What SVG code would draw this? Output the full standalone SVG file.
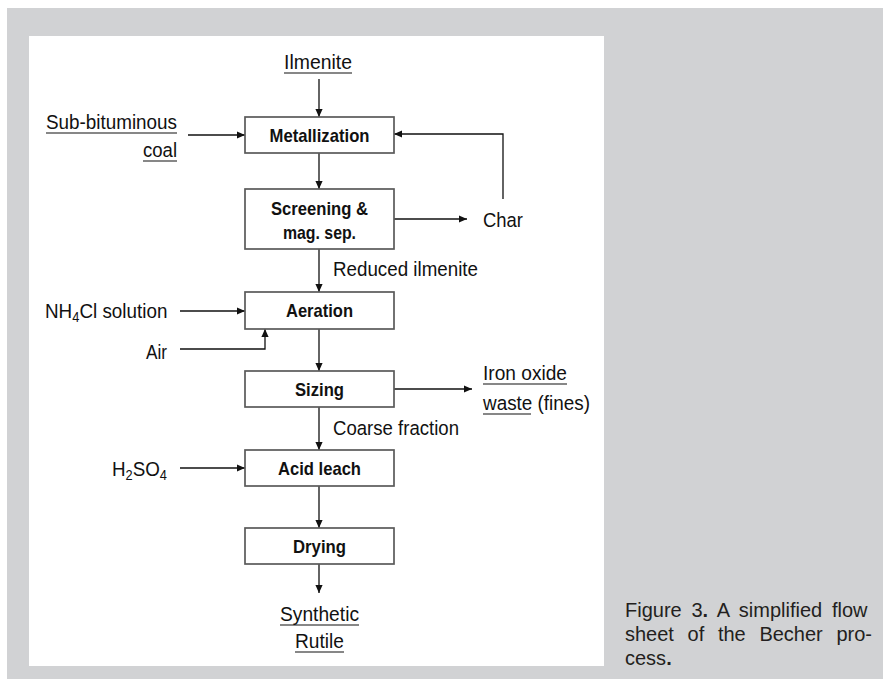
<svg xmlns="http://www.w3.org/2000/svg" width="883" height="679" viewBox="0 0 883 679">
<style>
.lbl{font-family:"Liberation Sans",Arial,sans-serif;font-size:20.5px;fill:#111}
.box{fill:#fff;stroke:#5a5a5a;stroke-width:1.7}
.bt{font-family:"Liberation Sans",Arial,sans-serif;font-size:19px;font-weight:bold;fill:#111;text-anchor:middle}
.ln{fill:none;stroke:#111;stroke-width:1.3}
.ul{stroke:#111;stroke-width:1.2}
.cap{font-family:"Liberation Sans",Arial,sans-serif;font-size:20px;fill:#231f20}
</style>
<defs>
<marker id="ah" viewBox="0 0 10 10" refX="10" refY="5" markerWidth="8" markerHeight="8" markerUnits="userSpaceOnUse" orient="auto">
<path d="M0,0.5 L10,5 L0,9.5 Z" fill="#111"/>
</marker>
</defs>
<rect x="7" y="8" width="876" height="671" fill="#d1d2d4"/>
<rect x="29" y="36" width="575" height="630" fill="#fff"/>

<g id="connectors">
<line class="ln" x1="319" y1="79" x2="319" y2="117" marker-end="url(#ah)"/>
<line class="ln" x1="188" y1="135" x2="245" y2="135" marker-end="url(#ah)"/>
<line class="ln" x1="319" y1="153" x2="319" y2="189" marker-end="url(#ah)"/>
<line class="ln" x1="394" y1="219" x2="467" y2="219" marker-end="url(#ah)"/>
<polyline class="ln" points="503,199 503,134 394,134" marker-end="url(#ah)"/>
<line class="ln" x1="319" y1="249" x2="319" y2="292" marker-end="url(#ah)"/>
<line class="ln" x1="180" y1="311" x2="245" y2="311" marker-end="url(#ah)"/>
<polyline class="ln" points="180,349 265,349 265,329" marker-end="url(#ah)"/>
<line class="ln" x1="319" y1="329" x2="319" y2="371" marker-end="url(#ah)"/>
<line class="ln" x1="394" y1="389" x2="472" y2="389" marker-end="url(#ah)"/>
<line class="ln" x1="319" y1="407" x2="319" y2="450" marker-end="url(#ah)"/>
<line class="ln" x1="180" y1="468" x2="245" y2="468" marker-end="url(#ah)"/>
<line class="ln" x1="319" y1="486" x2="319" y2="528" marker-end="url(#ah)"/>
<line class="ln" x1="319" y1="564" x2="319" y2="593" marker-end="url(#ah)"/>
</g>

<g id="n-metallization"><rect class="box" x="245" y="117" width="149" height="36"/><text class="bt" x="319.5" y="142" textLength="100" lengthAdjust="spacingAndGlyphs">Metallization</text></g>
<g id="n-screening"><rect class="box" x="245" y="189" width="149" height="60"/><text class="bt" x="319.5" y="215" textLength="97" lengthAdjust="spacingAndGlyphs">Screening &amp;</text><text class="bt" x="319.5" y="239" textLength="73" lengthAdjust="spacingAndGlyphs">mag. sep.</text></g>
<g id="n-aeration"><rect class="box" x="245" y="292" width="149" height="37"/><text class="bt" x="319.5" y="317" textLength="67" lengthAdjust="spacingAndGlyphs">Aeration</text></g>
<g id="n-sizing"><rect class="box" x="245" y="371" width="149" height="36"/><text class="bt" x="319.5" y="396" textLength="49" lengthAdjust="spacingAndGlyphs">Sizing</text></g>
<g id="n-acidleach"><rect class="box" x="245" y="450" width="149" height="36"/><text class="bt" x="319.5" y="475" textLength="83" lengthAdjust="spacingAndGlyphs">Acid leach</text></g>
<g id="n-drying"><rect class="box" x="245" y="528" width="149" height="36"/><text class="bt" x="319.5" y="553" textLength="53" lengthAdjust="spacingAndGlyphs">Drying</text></g>

<g id="n-ilmenite"><text class="lbl" x="284" y="69" textLength="68" lengthAdjust="spacingAndGlyphs">Ilmenite</text><line class="ul" x1="284" y1="73" x2="352" y2="73"/></g>
<g id="n-coal"><text class="lbl" x="46" y="129" textLength="131" lengthAdjust="spacingAndGlyphs">Sub-bituminous</text><line class="ul" x1="46" y1="133" x2="177" y2="133"/><text class="lbl" x="143" y="157" textLength="34" lengthAdjust="spacingAndGlyphs">coal</text><line class="ul" x1="143" y1="161" x2="177" y2="161"/></g>
<g id="n-char"><text class="lbl" x="483" y="227" textLength="40" lengthAdjust="spacingAndGlyphs">Char</text></g>
<g id="t-reduced"><text class="lbl" x="333" y="276" textLength="145" lengthAdjust="spacingAndGlyphs">Reduced ilmenite</text></g>
<g id="n-nh4cl" transform="translate(45,318) scale(0.92,1)"><text class="lbl" x="0" y="0">NH<tspan font-size="14" dy="4">4</tspan><tspan dy="-4">Cl solution</tspan></text></g>
<g id="n-air"><text class="lbl" x="146" y="359" textLength="21" lengthAdjust="spacingAndGlyphs">Air</text></g>
<g id="n-ironoxide"><text class="lbl" x="483" y="380" textLength="84" lengthAdjust="spacingAndGlyphs">Iron oxide</text><line class="ul" x1="483" y1="384" x2="567" y2="384"/><text class="lbl" x="483" y="410" textLength="107" lengthAdjust="spacingAndGlyphs">waste (fines)</text><line class="ul" x1="483" y1="414" x2="531" y2="414"/></g>
<g id="t-coarse"><text class="lbl" x="333" y="435" textLength="126" lengthAdjust="spacingAndGlyphs">Coarse fraction</text></g>
<g id="n-h2so4" transform="translate(112,476) scale(0.917,1)"><text class="lbl" x="0" y="0">H<tspan font-size="14" dy="4">2</tspan><tspan dy="-4">SO</tspan><tspan font-size="14" dy="4">4</tspan></text></g>
<g id="n-rutile"><text class="lbl" x="280" y="621" textLength="79" lengthAdjust="spacingAndGlyphs">Synthetic</text><line class="ul" x1="280" y1="625" x2="359" y2="625"/><text class="lbl" x="295" y="648" textLength="49" lengthAdjust="spacingAndGlyphs">Rutile</text><line class="ul" x1="295" y1="652" x2="344" y2="652"/></g>

<g id="caption">
<text class="cap" x="625" y="617" word-spacing="4.2">Figure 3<tspan font-weight="bold">.</tspan> A simplified flow</text>
<text class="cap" x="625" y="641" word-spacing="8.1">sheet of the Becher pro-</text>
<text class="cap" x="625" y="665">cess<tspan font-weight="bold">.</tspan></text>
</g>
</svg>
